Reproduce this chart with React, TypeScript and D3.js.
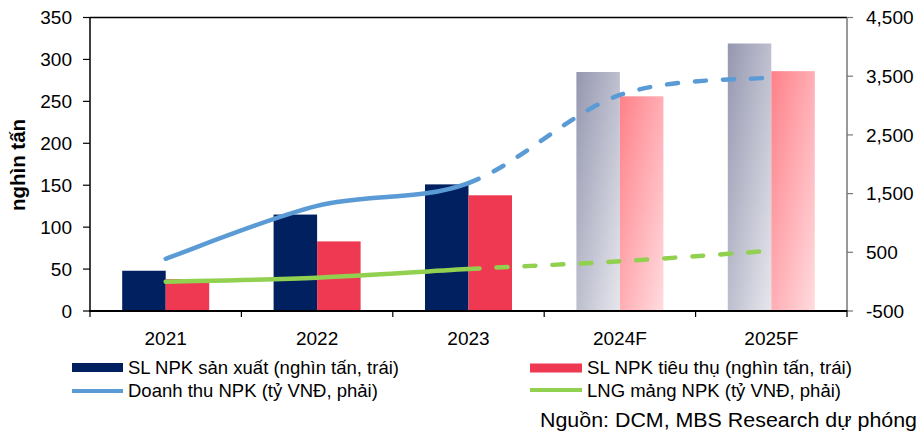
import * as d3 from "d3";

const categories = ["2021", "2022", "2023", "2024F", "2025F"];
const firstForecast = 3; // 2024F trở đi là dự phóng
const slSanXuat = [48, 115, 151, 285, 319];
const slTieuThu = [38, 83, 138, 256, 286];
const doanhThu = [390, 1290, 1680, 3180, 3480];
const lngNpk = [0, 67, 215, 347, 527];
const leftTicks = [0, 50, 100, 150, 200, 250, 300, 350];
const rightTicks = [-500, 500, 1500, 2500, 3500, 4500];

const W = 921;
const H = 437;
const left = 90;
const right = 847;
const top = 17.5;
const bottom = 311;
const font = "'Liberation Sans', Arial, sans-serif";

const navy = "#002060";
const red = "#EF3953";
const blue = "#5B9BD5";
const green = "#92D050";

const fmt = d3.formatLocale({ decimal: ".", thousands: ",", grouping: [3], currency: ["", ""], minus: "-" }).format(",");

// bezier giống đường "smoothed" của Excel (cardinal, tension 0)
function smoothPath(pts: [number, number][], from: number, to: number) {
  let d = `M${pts[from][0]},${pts[from][1]}`;
  for (let i = from; i < to; i++) {
    const p0 = pts[i - 1] ?? pts[i];
    const p1 = pts[i];
    const p2 = pts[i + 1];
    const p3 = pts[i + 2] ?? pts[i + 1];
    const c1x = p1[0] + (p2[0] - p0[0]) / 6;
    const c1y = p1[1] + (p2[1] - p0[1]) / 6;
    const c2x = p2[0] - (p3[0] - p1[0]) / 6;
    const c2y = p2[1] - (p3[1] - p1[1]) / 6;
    d += `C${c1x},${c1y},${c2x},${c2y},${p2[0]},${p2[1]}`;
  }
  return d;
}

const App = () => {
  const x = d3.scaleBand().domain(categories).range([left, right]);
  const xSub = d3
    .scaleBand()
    .domain(["sx", "tt"])
    .range([0, x.bandwidth()])
    .paddingOuter(0.74);
  const yL = d3.scaleLinear().domain([0, 350]).range([bottom, top]);
  const yR = d3.scaleLinear().domain([-500, 4500]).range([bottom, top]);

  const cx = (c: string) => (x(c) as number) + x.bandwidth() / 2;
  const bluePts = categories.map((c, i) => [cx(c), yR(doanhThu[i])] as [number, number]);
  const greenPts = categories.map((c, i) => [cx(c), yR(lngNpk[i])] as [number, number]);
  const lastActual = firstForecast - 1;
  const n = categories.length - 1;

  const bounds = [...categories.map((c) => x(c) as number), right];

  return (
    <svg
      width={W}
      height={H}
      style={{ position: "absolute", left: 0, top: 0, display: "block" }}
      fontFamily={font}
    >
      <defs>
        <linearGradient id="gGray" x1="0" y1="0" x2="1" y2="1">
          <stop offset="0" stopColor="#9597b0" />
          <stop offset="1" stopColor="#e6e7ed" />
        </linearGradient>
        <linearGradient id="gPink" x1="0" y1="0" x2="1" y2="1">
          <stop offset="0" stopColor="#ff8089" />
          <stop offset="1" stopColor="#ffdcdf" />
        </linearGradient>
      </defs>
      <rect width={W} height={H} fill="#fff" />

      {/* cột */}
      {categories.map((c, i) => {
        const fc = i >= firstForecast;
        const x0 = x(c) as number;
        return (
          <g key={c}>
            <rect
              x={x0 + (xSub("sx") as number)}
              y={yL(slSanXuat[i])}
              width={xSub.bandwidth()}
              height={bottom - yL(slSanXuat[i])}
              fill={fc ? "url(#gGray)" : navy}
            />
            <rect
              x={x0 + (xSub("tt") as number)}
              y={yL(slTieuThu[i])}
              width={xSub.bandwidth()}
              height={bottom - yL(slTieuThu[i])}
              fill={fc ? "url(#gPink)" : red}
            />
          </g>
        );
      })}

      {/* khung, trục */}
      <line x1={left} x2={right} y1={top} y2={top} stroke="#000" strokeWidth={1.5} />
      <line x1={right} x2={right} y1={top} y2={bottom} stroke="#777" strokeWidth={1.5} />
      <line x1={left} x2={left} y1={top} y2={bottom} stroke="#000" strokeWidth={1.5} />
      <line x1={left - 1} x2={right + 1} y1={bottom} y2={bottom} stroke="#000" strokeWidth={2} />
      {bounds.map((b, i) => (
        <line key={i} x1={b} x2={b} y1={bottom} y2={bottom + 6} stroke="#000" strokeWidth={1.2} />
      ))}
      {leftTicks.map((t) => (
        <g key={t}>
          <line x1={left - 7} x2={left} y1={yL(t)} y2={yL(t)} stroke="#000" strokeWidth={1.2} />
          <text x={72} y={yL(t)} dy="0.35em" textAnchor="end" fontSize={19}>
            {t}
          </text>
        </g>
      ))}
      {rightTicks.map((t) => (
        <g key={t}>
          <line x1={right} x2={right + 6} y1={yR(t)} y2={yR(t)} stroke="#777" strokeWidth={1.2} />
          <text x={866} y={yR(t)} dy="0.35em" fontSize={19}>
            {fmt(t)}
          </text>
        </g>
      ))}
      {categories.map((c) => (
        <text key={c} x={cx(c)} y={345} textAnchor="middle" fontSize={19}>
          {c}
        </text>
      ))}
      <text
        transform="translate(25,165) rotate(-90)"
        textAnchor="middle"
        fontSize={20.5}
        fontWeight="bold"
      >
        nghìn tấn
      </text>

      {/* đường */}
      <path d={smoothPath(bluePts, 0, lastActual)} fill="none" stroke={blue} strokeWidth={4.5} strokeLinecap="round" />
      <path d={smoothPath(bluePts, lastActual, n)} fill="none" stroke={blue} strokeWidth={4.5} strokeLinecap="round" strokeDasharray="11 17" />
      <path d={smoothPath(greenPts, 0, lastActual)} fill="none" stroke={green} strokeWidth={4.5} strokeLinecap="round" />
      <path d={smoothPath(greenPts, lastActual, n)} fill="none" stroke={green} strokeWidth={4.5} strokeLinecap="round" strokeDasharray="11 17" />

      {/* chú thích */}
      <rect x={72} y={363} width={51} height={9} fill={navy} />
      <text x={128} y={367.5} dy="0.35em" fontSize={18.5} textLength={271} lengthAdjust="spacingAndGlyphs">
        SL NPK sản xuất (nghìn tấn, trái)
      </text>
      <rect x={530} y={363.5} width={52} height={9} fill={red} />
      <text x={587} y={367.5} dy="0.35em" fontSize={18.5} textLength={265} lengthAdjust="spacingAndGlyphs">
        SL NPK tiêu thụ (nghìn tấn, trái)
      </text>
      <line x1={72} x2={123} y1={391} y2={391} stroke={blue} strokeWidth={4} />
      <text x={128} y={391} dy="0.35em" fontSize={18.5}>
        Doanh thu NPK (tỷ VNĐ, phải)
      </text>
      <line x1={530} x2={582} y1={390} y2={390} stroke={green} strokeWidth={4} />
      <text x={587} y={390.5} dy="0.35em" fontSize={18.5}>
        LNG mảng NPK (tỷ VNĐ, phải)
      </text>
      <text x={540} y={419.5} dy="0.35em" fontSize={20} textLength={377} lengthAdjust="spacingAndGlyphs">
        Nguồn: DCM, MBS Research dự phóng
      </text>
    </svg>
  );
};

export default App;
